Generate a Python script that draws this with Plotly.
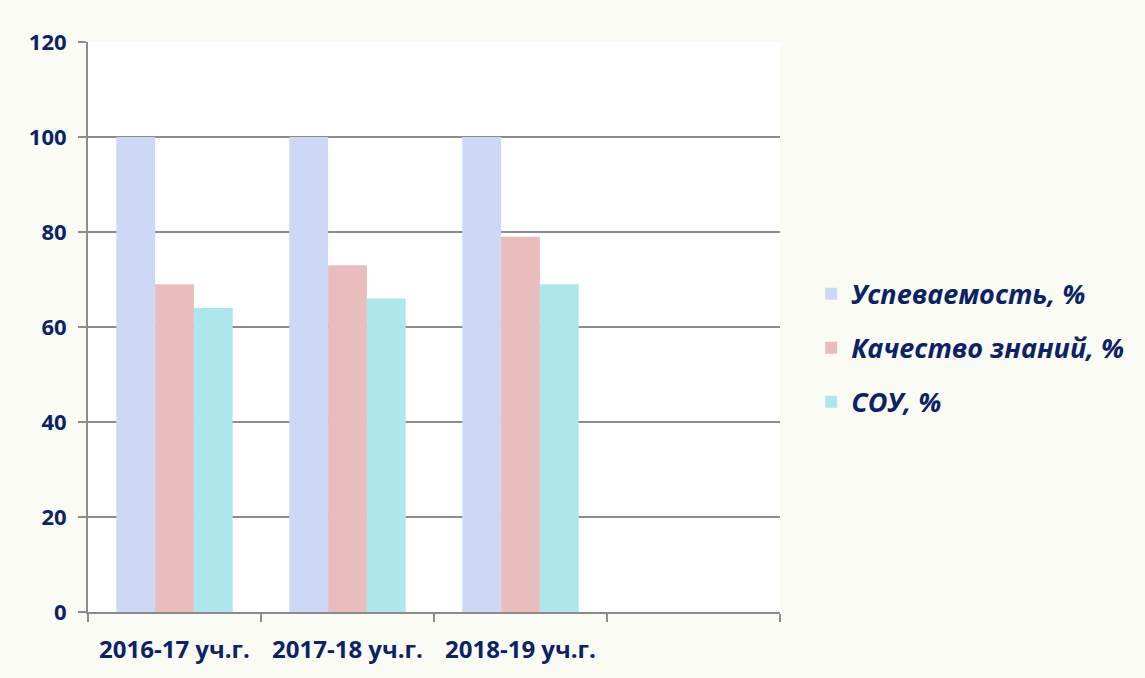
import plotly.graph_objects as go

categories = ["2016-17 уч.г.", "2017-18 уч.г.", "2018-19 уч.г.", " "]
series_names = ["Успеваемость, %", "Качество знаний, %", "СОУ, %"]
uspev = [100, 100, 100, None]
kachestvo = [69, 73, 79, None]
sou = [64, 66, 69, None]
y_ticks = [0, 20, 40, 60, 80, 100, 120]

colors = ["#CCD8F6", "#E9BDBD", "#AEE6EE"]
text_color = "#0B2264"
grid_color = "#8C8C8C"
paper_color = "#FBFBF6"

fig = go.Figure()
for name, vals, col in zip(series_names, [uspev, kachestvo, sou], colors):
    fig.add_trace(go.Bar(
        x=categories, y=vals, name="<b><i>" + name + "</i></b>",
        marker=dict(color=col, line=dict(width=0)),
        legendgroup=name,
    ))

fig.update_layout(
    width=1145, height=678,
    margin=dict(l=88, r=365, t=42, b=66),
    paper_bgcolor=paper_color,
    plot_bgcolor="#FFFFFF",
    barmode="group",
    bargap=0.327,
    bargroupgap=0,
    font=dict(family="Open Sans", color=text_color),
    showlegend=True,
    legend=dict(
        x=1.045, y=0.463, xanchor="left", yanchor="middle",
        font=dict(size=27, color=text_color, family="Open Sans"),
        tracegroupgap=16,
        bgcolor="rgba(0,0,0,0)",
    ),
    xaxis=dict(
        type="category",
        categoryorder="array", categoryarray=categories,
        range=[-0.5, 3.5],
        tickson="boundaries",
        ticks="outside", ticklen=8, tickcolor=grid_color, tickwidth=2,
        showline=True, linecolor=grid_color, linewidth=2,
        showgrid=False,
        tickfont=dict(size=24, color=text_color, family="Open Sans", weight="bold"),
        ticklabelstandoff=15,
    ),
    yaxis=dict(
        range=[0, 120],
        tickvals=y_ticks,
        ticks="outside", ticklen=8, tickcolor=grid_color, tickwidth=2,
        showline=True, linecolor=grid_color, linewidth=2,
        showgrid=True, gridcolor=grid_color, gridwidth=2,
        zeroline=False,
        tickfont=dict(size=22, color=text_color, family="Open Sans", weight="bold"),
        ticklabelstandoff=7,
    ),
)

fig.write_html(
    "out.html",
    config={"displayModeBar": False},
    post_script="document.body.style.margin='0';document.body.style.background='" + paper_color + "';",
)
